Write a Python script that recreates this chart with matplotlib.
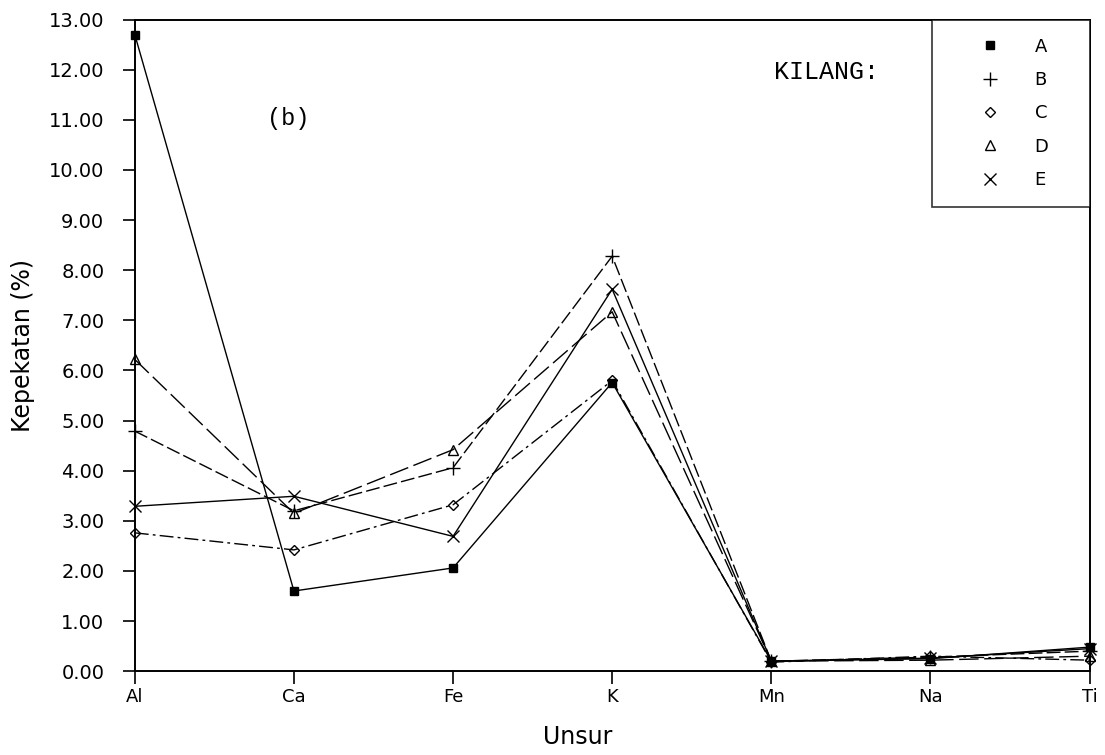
import matplotlib
matplotlib.use("Agg")
import matplotlib.pyplot as plt
from matplotlib.lines import Line2D

# Data (b)
unsur = ["Al", "Ca", "Fe", "K", "Mn", "Na", "Ti"]
kilang = ["A", "B", "C", "D", "E"]

kilang_a = [12.70, 1.60, 2.06, 5.76, 0.20, 0.25, 0.48]
kilang_b = [4.79, 3.20, 4.06, 8.28, 0.20, 0.28, 0.40]
kilang_c = [2.76, 2.42, 3.32, 5.80, 0.18, 0.30, 0.22]
kilang_d = [6.22, 3.15, 4.42, 7.17, 0.20, 0.22, 0.30]
kilang_e = [3.29, 3.49, 2.69, 7.62, 0.20, 0.26, 0.45]

y_ticks = list(range(0, 14))

series = [kilang_a, kilang_b, kilang_c, kilang_d, kilang_e]
markers = ["s", "+", "D", "^", "x"]
msizes = [6, 10, 5, 7, 9]
fills = ["black", "none", "none", "none", "none"]
styles = ["-", (0, (10, 3)), (0, (10, 3, 2, 3)), (0, (14, 4)), "-"]

fig = plt.figure(figsize=(11.05, 7.55), dpi=100)
ax = fig.add_axes([0.122, 0.111, 0.864, 0.863])

x = list(range(len(unsur)))
for vals, m, ms, fc, ls in zip(series, markers, msizes, fills, styles):
    ax.plot(x, vals, color="black", linewidth=1.0, linestyle=ls,
            marker=m, markersize=ms, markerfacecolor=fc,
            markeredgecolor="black", markeredgewidth=1.0, clip_on=False)

ax.set_xlim(0, len(unsur) - 1)
ax.set_ylim(0, 13)
ax.set_xticks(x)
ax.set_xticklabels(unsur)
ax.set_yticks(y_ticks)
ax.set_yticklabels([f"{v:.2f}" for v in y_ticks])
ax.tick_params(axis="both", direction="out", length=9, width=1.2,
               labelsize=14, colors="black")
ax.tick_params(axis="x", pad=3, labelsize=13)
ax.tick_params(axis="y", pad=13)
for s in ax.spines.values():
    s.set_linewidth(1.4)

ax.set_xlabel("Unsur", fontsize=17)
ax.xaxis.set_label_coords(0.464, -0.083)
ax.set_ylabel("Kepekatan (%)", fontsize=17, labelpad=10)

ax.text(0.138, 0.849, "(b)", transform=ax.transAxes, fontsize=17,
        family="Liberation Mono", ha="left", va="center")
ax.text(0.670, 0.92, "KILANG:", transform=ax.transAxes, fontsize=18,
        family="Liberation Mono", ha="left", va="center")

handles = [Line2D([], [], linestyle="none", marker=m, markersize=ms,
                  markerfacecolor=fc, markeredgecolor="black",
                  markeredgewidth=1.0, color="black")
           for m, ms, fc in zip(markers, msizes, fills)]
labels = [k + "    " for k in kilang]
leg = ax.legend(handles, labels, loc="upper right", frameon=True,
                fancybox=False, edgecolor="black", fontsize=13,
                borderaxespad=0.0, borderpad=1.0, labelspacing=0.85,
                handlelength=4.5, handletextpad=0.2)
leg.get_frame().set_linewidth(1.2)
leg.get_frame().set_boxstyle("square", pad=0)

fig.savefig("out.png", dpi=100, facecolor="white")
